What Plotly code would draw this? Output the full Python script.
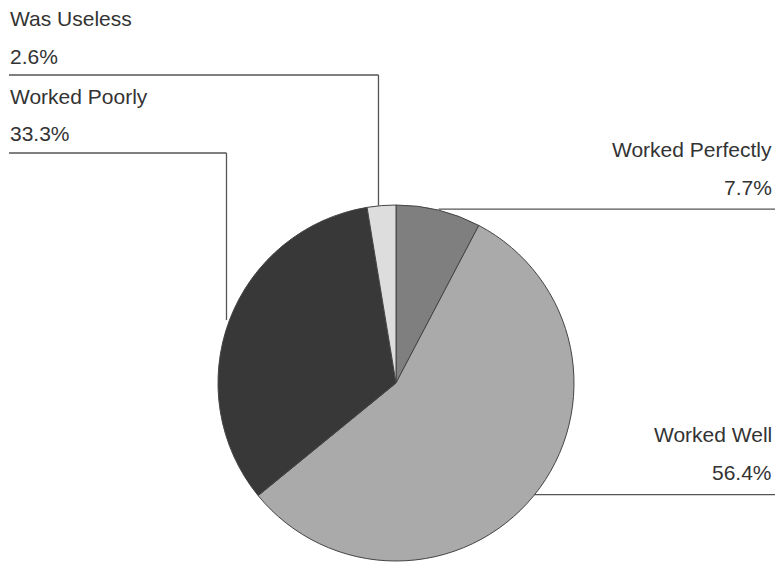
import math
import plotly.graph_objects as go

categories = ["Worked Perfectly", "Worked Well", "Worked Poorly", "Was Useless"]
values = [7.7, 56.4, 33.3, 2.6]
colors = ["#7f7f7f", "#aaaaaa", "#383838", "#dddddd"]

W, H = 775, 565
CX, CY, R = 396, 383, 178

fig = go.Figure(go.Pie(
    labels=categories, values=values, sort=False, direction="clockwise", rotation=0,
    textinfo="none", hoverinfo="label+percent",
    marker=dict(colors=colors, line=dict(color="#444444", width=1)),
    domain=dict(x=[(CX - R) / W, (CX + R) / W], y=[1 - (CY + R) / H, 1 - (CY - R) / H]),
    showlegend=False,
))

# label layout: (side, line y in px for that label row)
label_rows = {
    "Worked Perfectly": ("right", None),
    "Worked Well": ("right", None),
    "Worked Poorly": ("left", 153),
    "Was Useless": ("left", 75),
}

shapes = []
annotations = []
font = dict(family="Liberation Sans, Arial, sans-serif", size=21, color="#333333")
total = sum(values)
cum = 0.0
for cat, v in zip(categories, values):
    mid = (cum + v / 2) / total * 2 * math.pi
    cum += v
    px = CX + R * math.sin(mid)
    py = CY - R * math.cos(mid)
    side, ly = label_rows[cat]
    pct = f"{v / total * 100:.1f}%"
    line = dict(color="#555555", width=1.3)
    if side == "right":
        shapes.append(dict(type="line", xref="paper", yref="paper",
                           x0=px / W, y0=1 - (py - 1) / H, x1=1, y1=1 - (py - 1) / H, line=line))
        annotations.append(dict(xref="paper", yref="paper", x=(W - 1) / W, y=1 - (py - 61) / H,
                                text=cat, showarrow=False, xanchor="right", yanchor="middle", font=font))
        annotations.append(dict(xref="paper", yref="paper", x=(W - 1) / W, y=1 - (py - 23) / H,
                                text=pct, showarrow=False, xanchor="right", yanchor="middle", font=font))
    else:
        shapes.append(dict(type="line", xref="paper", yref="paper",
                           x0=(px - 3) / W, y0=1 - py / H, x1=(px - 3) / W, y1=1 - ly / H, line=line))
        shapes.append(dict(type="line", xref="paper", yref="paper",
                           x0=(px - 3) / W, y0=1 - ly / H, x1=9 / W, y1=1 - ly / H, line=line))
        annotations.append(dict(xref="paper", yref="paper", x=8 / W, y=1 - (ly - 56) / H,
                                text=cat, showarrow=False, xanchor="left", yanchor="middle", font=font))
        annotations.append(dict(xref="paper", yref="paper", x=8 / W, y=1 - (ly - 19) / H,
                                text=pct, showarrow=False, xanchor="left", yanchor="middle", font=font))

fig.update_layout(
    width=W, height=H, margin=dict(l=0, r=0, t=0, b=0),
    paper_bgcolor="white", plot_bgcolor="white",
    shapes=shapes, annotations=annotations,
)
fig.write_html("out.html", config={"displayModeBar": False},
               post_script="document.body.style.margin='0';document.body.style.overflow='hidden';")
